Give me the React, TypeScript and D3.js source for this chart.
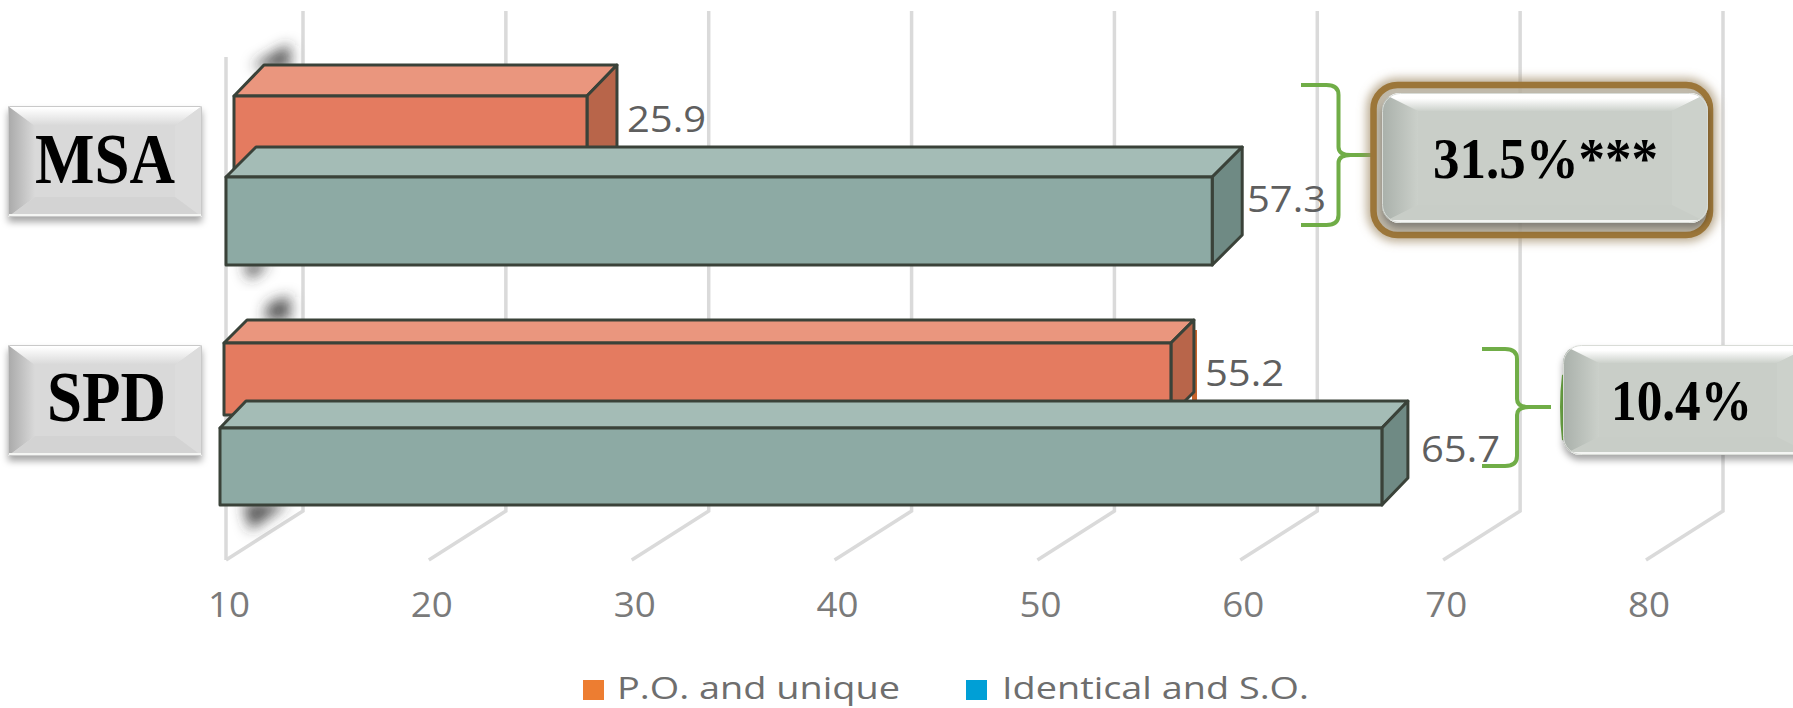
import React from "react";
import * as d3 from "d3";

const categories = ["MSA", "SPD"];
const poUniqueValues = [25.9, 55.2];
const identicalSoValues = [57.3, 65.7];
const tickValues = [10, 20, 30, 40, 50, 60, 70, 80];
const gapLabels = ["31.5%***", "10.4%"];
const legendLabels = ["P.O. and unique", "Identical and S.O."];

const W = 1793;
const H = 708;
const FRONT = d3.scaleLinear().domain([10, 80]).range([226, 1646]);
const BACK = d3.scaleLinear().domain([10, 80]).range([303, 1723]);

const palette = {
  po: { front: "#e47b60", top: "#ea967e", side: "#b8654a" },
  id: { front: "#8daaa4", top: "#a4bcb6", side: "#6f8a84" },
};

// Each bar sits at its own depth in the 3D scene, so each gets its own origin and unit length.
const barLayout = [
  { cat: 0, key: "po", x0: 234, unit: 22.2, y: 96, h: 90, dx: 30, dy: 31, lx: 627, ly: 132 },
  { cat: 0, key: "id", x0: 226, unit: 20.85, y: 177, h: 88, dx: 30, dy: 30, lx: 1247, ly: 212 },
  { cat: 1, key: "po", x0: 224, unit: 20.95, y: 343, h: 72, dx: 23, dy: 23, lx: 1205, ly: 386 },
  { cat: 1, key: "id", x0: 220, unit: 20.86, y: 428, h: 77, dx: 26, dy: 27, lx: 1421, ly: 462 },
] as const;

const pts = (p: number[][]) => p.map((q) => q.join(",")).join(" ");

function Bar3D({ b }: { b: (typeof barLayout)[number] }) {
  const value = (b.key === "po" ? poUniqueValues : identicalSoValues)[b.cat];
  const x = d3.scaleLinear().domain([10, 80]).range([b.x0, b.x0 + 70 * b.unit]);
  const x1 = x(value);
  const c = palette[b.key];
  const s = { stroke: "#3a4239", strokeWidth: 3, strokeLinejoin: "round" as const };
  return (
    <g>
      <polygon {...s} fill={c.top} points={pts([[b.x0, b.y], [b.x0 + b.dx, b.y - b.dy], [x1 + b.dx, b.y - b.dy], [x1, b.y]])} />
      <polygon {...s} fill={c.side} points={pts([[x1, b.y], [x1 + b.dx, b.y - b.dy], [x1 + b.dx, b.y + b.h - b.dy], [x1, b.y + b.h]])} />
      <rect {...s} fill={c.front} x={b.x0} y={b.y} width={x1 - b.x0} height={b.h} />
    </g>
  );
}

function Stretched({ x, y, w, size, fill, family, weight, children }: any) {
  return (
    <text x={x} y={y} fontSize={size} fill={fill} fontFamily={family} fontWeight={weight} textLength={w} lengthAdjust="spacingAndGlyphs">
      {children}
    </text>
  );
}

// Bevelled button: a flat face framed by four shaded trapezoids, clipped to a rounded outline.
function Bevel({ id, x, y, w, h, rx, ix, iy, face, left, top, right, bottom, edge }: any) {
  const xr = x + w;
  const yb = y + h;
  return (
    <g filter="url(#dropShadow)">
      <clipPath id={id}>
        <rect x={x} y={y} width={w} height={h} rx={rx} />
      </clipPath>
      <g clipPath={`url(#${id})`}>
        <rect x={x} y={y} width={w} height={h} fill={face} />
        <polygon fill={`url(#${left})`} points={pts([[x, y], [x + ix, y + iy], [x + ix, yb - iy], [x, yb]])} />
        <polygon fill={`url(#${top})`} points={pts([[x, y], [xr, y], [xr - ix, y + iy], [x + ix, y + iy]])} />
        <polygon fill={right} points={pts([[xr, y], [xr, yb], [xr - ix, yb - iy], [xr - ix, y + iy]])} />
        <polygon fill={bottom} points={pts([[x, yb], [x + ix, yb - iy], [xr - ix, yb - iy], [xr, yb]])} />
        <rect x={x} y={yb - 3} width={w} height={3} fill="#f4f5f3" />
        <rect x={x + 0.5} y={y + 0.5} width={w - 1} height={h - 1} rx={rx} fill="none" stroke={edge} strokeWidth={1} />
      </g>
    </g>
  );
}

function brace(xs: number, xm: number, xt: number, y0: number, ym: number, y1: number) {
  const path = d3.path();
  path.moveTo(xs, y0);
  path.lineTo(xm - 12, y0);
  path.quadraticCurveTo(xm, y0, xm, y0 + 10);
  path.lineTo(xm, ym - 8);
  path.quadraticCurveTo(xm, ym, xm + 12, ym);
  path.lineTo(xt, ym);
  path.moveTo(xm + 12, ym);
  path.quadraticCurveTo(xm, ym, xm, ym + 8);
  path.lineTo(xm, y1 - 10);
  path.quadraticCurveTo(xm, y1, xm - 12, y1);
  path.lineTo(xs, y1);
  return path.toString();
}

const SERIF = "'Liberation Serif', serif";
const SANS = "'Open Sans', sans-serif";
const smudges = [
  [[252, 66], [290, 44], [290, 68], [262, 68]],
  [[243, 262], [270, 262], [250, 280]],
  [[268, 304], [290, 296], [290, 320], [264, 320]],
  [[243, 503], [288, 503], [250, 530]],
];

export default function App() {
  return (
    <svg width={W} height={H} viewBox={`0 0 ${W} ${H}`} style={{ position: "absolute", left: 0, top: 0, display: "block", background: "#fff" }}>
      <defs>
        <filter id="dropShadow" x="-10%" y="-10%" width="120%" height="125%">
          <feDropShadow dx="0" dy="5" stdDeviation="3.5" floodColor="#000" floodOpacity="0.35" />
        </filter>
        <filter id="smudge" x="-60%" y="-60%" width="220%" height="220%">
          <feGaussianBlur stdDeviation="7" />
        </filter>
        <filter id="glow" x="-10%" y="-15%" width="120%" height="130%">
          <feGaussianBlur stdDeviation="5" />
        </filter>
        <linearGradient id="greyLeft" x1="0" x2="1" y1="0" y2="0">
          <stop offset="0" stopColor="#a9a9a9" />
          <stop offset="1" stopColor="#d9d9d9" />
        </linearGradient>
        <linearGradient id="greyTop" x1="0" x2="0" y1="0" y2="1">
          <stop offset="0.1" stopColor="#ffffff" />
          <stop offset="1" stopColor="#d8d8d8" />
        </linearGradient>
        <linearGradient id="sageLeft" x1="0" x2="1" y1="0" y2="0">
          <stop offset="0" stopColor="#a9b0aa" />
          <stop offset="1" stopColor="#cbd0ca" />
        </linearGradient>
        <linearGradient id="sageTop" x1="0" x2="0" y1="0" y2="1">
          <stop offset="0.3" stopColor="#ffffff" />
          <stop offset="1" stopColor="#ccd1cb" />
        </linearGradient>
      </defs>

      {/* 3D chart walls: back gridlines and floor lines */}
      <g stroke="#dadada" strokeWidth={3.5} fill="none">
        <line x1={FRONT(10)} x2={FRONT(10)} y1={57} y2={560} />
        {tickValues.map((t) => (
          <polyline key={t} points={pts([[BACK(t), 11], [BACK(t), 511], [FRONT(t), 560]])} />
        ))}
      </g>

      {smudges.map((p, i) => (
        <polygon key={i} points={pts(p)} fill="#333" fillOpacity={0.85} filter="url(#smudge)" />
      ))}

      {/* Thin darker sliver left behind the lower orange bar */}
      <rect x={1192} y={330} width={5} height={72} fill="#c7632a" />

      {barLayout.map((b, i) => (
        <Bar3D key={i} b={b} />
      ))}

      {barLayout.map((b, i) => (
        <Stretched key={i} x={b.lx} y={b.ly} w={79} size={36} fill="#5f5f5f" family={SANS}>
          {(b.key === "po" ? poUniqueValues : identicalSoValues)[b.cat].toFixed(1)}
        </Stretched>
      ))}

      {tickValues.map((t) => (
        <text key={t} x={FRONT(t) + 3} y={617} textAnchor="middle" fontSize={34} fill="#7a7a7a" fontFamily={SANS} textLength={42} lengthAdjust="spacingAndGlyphs">
          {t}
        </text>
      ))}

      {/* Category buttons */}
      <Bevel id="catA" x={8} y={106} w={194} h={111} rx={1} ix={27} iy={20} face="#d9d9d9" left="greyLeft" top="greyTop" right="#dcdcdc" bottom="#d3d3d3" edge="#c9c9c9" />
      <Bevel id="catB" x={8} y={345} w={194} h={111} rx={1} ix={27} iy={20} face="#d9d9d9" left="greyLeft" top="greyTop" right="#dcdcdc" bottom="#d3d3d3" edge="#c9c9c9" />
      <Stretched x={35} y={183} w={140} size={72} fill="#000" family={SERIF} weight={700}>{categories[0]}</Stretched>
      <Stretched x={47} y={421} w={119} size={72} fill="#000" family={SERIF} weight={700}>{categories[1]}</Stretched>

      {/* Braces tying each pair of bars to its gap */}
      <path d={brace(1301, 1338.5, 1372, 85, 155, 225)} fill="none" stroke="#70ad47" strokeWidth={4} />
      <path d={brace(1482, 1517, 1551, 349, 407, 466)} fill="none" stroke="#70ad47" strokeWidth={4} />
      <path d="M1564 375 Q1560 407 1564 440" fill="none" stroke="#70ad47" strokeWidth={4} />

      {/* Gap callouts */}
      <rect x={1373.5} y={85} width={336.5} height={150} rx={24} fill="none" stroke="#a08a66" strokeOpacity={0.7} strokeWidth={14} filter="url(#glow)" />
      <rect x={1373.5} y={85} width={336.5} height={150} rx={24} fill="#bbb5a6" fillOpacity={0.8} stroke="#9c7639" strokeWidth={6.5} />
      <Bevel id="gapA" x={1382} y={93} w={326} h={130} rx={18} ix={36} iy={18} face="#c9cec8" left="sageLeft" top="sageTop" right="#ccd1cb" bottom="#c8cdc7" edge="#d9dcd7" />
      <Bevel id="gapB" x={1563} y={345} w={250} h={110} rx={18} ix={36} iy={18} face="#c9cec8" left="sageLeft" top="sageTop" right="#ccd1cb" bottom="#c8cdc7" edge="#d9dcd7" />
      <Stretched x={1433} y={178} w={225} size={58} fill="#000" family={SERIF} weight={700}>{gapLabels[0]}</Stretched>
      <Stretched x={1611} y={420} w={141} size={58} fill="#000" family={SERIF} weight={700}>{gapLabels[1]}</Stretched>

      {/* Legend */}
      <rect x={583} y={680} width={21} height={20} fill="#ed7d31" />
      <Stretched x={617} y={699} w={283} size={30.5} fill="#6e6e6e" family={SANS}>{legendLabels[0]}</Stretched>
      <rect x={966} y={680} width={21} height={20} fill="#009fd6" />
      <Stretched x={1002} y={699} w={307} size={30.5} fill="#6e6e6e" family={SANS}>{legendLabels[1]}</Stretched>
    </svg>
  );
}
